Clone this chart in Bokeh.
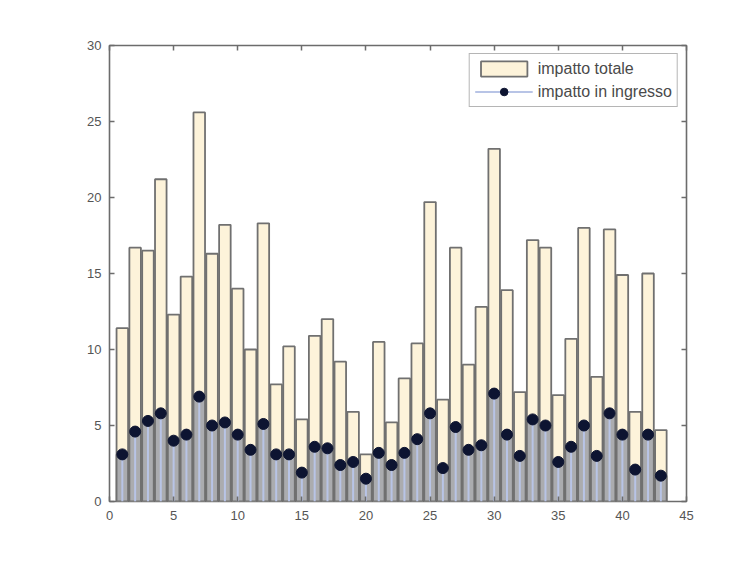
from bokeh.plotting import figure
from bokeh.models import Range1d, LinearAxis, FixedTicker, Legend, LegendItem
from bokeh.embed import file_html
from bokeh.resources import INLINE

# ---- data ----
index = list(range(1, 44))
impatto_totale = [11.4, 16.7, 16.5, 21.2, 12.3, 14.8, 25.6, 16.3, 18.2, 14.0,
                  10.0, 18.3, 7.7, 10.2, 5.4, 10.9, 12.0, 9.2, 5.9, 3.1,
                  10.5, 5.2, 8.1, 10.4, 19.7, 6.7, 16.7, 9.0, 12.8, 23.2,
                  13.9, 7.2, 17.2, 16.7, 7.0, 10.7, 18.0, 8.2, 17.9, 14.9,
                  5.9, 15.0, 4.7]
impatto_ingresso = [3.1, 4.6, 5.3, 5.8, 4.0, 4.4, 6.9, 5.0, 5.2, 4.4,
                    3.4, 5.1, 3.1, 3.1, 1.9, 3.6, 3.5, 2.4, 2.6, 1.5,
                    3.2, 2.4, 3.2, 4.1, 5.8, 2.2, 4.9, 3.4, 3.7, 7.1,
                    4.4, 3.0, 5.4, 5.0, 2.6, 3.6, 5.0, 3.0, 5.8, 4.4,
                    2.1, 4.4, 1.7]
x_ticks = [0, 5, 10, 15, 20, 25, 30, 35, 40, 45]
y_ticks = [0, 5, 10, 15, 20, 25, 30]
label_totale = "impatto totale"
label_ingresso = "impatto in ingresso"

FONT = "Liberation Sans"
AX = "#6c6c6c"

p = figure(width=728, height=546, output_backend="svg", toolbar_location=None,
           x_range=Range1d(0, 45), y_range=Range1d(0, 30),
           min_border_left=109, min_border_right=42,
           min_border_top=45, min_border_bottom=45)
p.background_fill_color = "white"
p.border_fill_color = "white"
p.outline_line_color = AX
p.outline_line_width = 1.6
p.xgrid.visible = False
p.ygrid.visible = False

zeros = [0] * len(index)

r_tot = p.vbar(x=index, top=impatto_totale, width=0.9, bottom=0,
               fill_color="#fdf3da", line_color="#707070", line_width=1.8)
p.vbar(x=index, top=impatto_ingresso, width=0.9, bottom=0,
       fill_color="#abacaf", line_color="#707070", line_width=1.8)
r_line = p.segment(x0=index, y0=zeros, x1=index, y1=impatto_ingresso,
                   line_color="#b8c4e6", line_width=2)
r_pt = p.scatter(x=index, y=impatto_ingresso, size=11, marker="circle",
                 fill_color="#0d1431", line_color="#0d1431")

def style_axis(ax, ticks, show_labels):
    ax.ticker = FixedTicker(ticks=ticks)
    ax.axis_line_color = None
    ax.major_tick_line_color = AX
    ax.major_tick_line_width = 1.5
    ax.major_tick_in = 5
    ax.major_tick_out = 0
    ax.minor_tick_line_color = None
    ax.major_label_text_font = FONT
    ax.major_label_text_font_size = "13px"
    ax.major_label_text_color = "#555555"
    if not show_labels:
        ax.major_label_overrides = {t: "" for t in ticks}
        ax.major_label_standoff = 0

style_axis(p.xaxis[0], x_ticks, True)
style_axis(p.yaxis[0], y_ticks, True)
p.xaxis[0].major_label_standoff = 9
p.yaxis[0].major_label_standoff = 8

top_ax = LinearAxis()
style_axis(top_ax, x_ticks, False)
p.add_layout(top_ax, "above")
right_ax = LinearAxis()
style_axis(right_ax, y_ticks, False)
p.add_layout(right_ax, "right")

legend = Legend(items=[
    LegendItem(label=label_totale, renderers=[r_tot]),
    LegendItem(label=label_ingresso, renderers=[r_line, r_pt]),
], location="top_right")
legend.margin = 8
legend.padding = 5
legend.spacing = 4
legend.glyph_width = 58
legend.glyph_height = 19
legend.label_standoff = 5
legend.label_text_font = FONT
legend.label_text_font_size = "16px"
legend.label_text_color = "#4a4a4a"
legend.border_line_color = AX
legend.border_line_width = 1.6
legend.background_fill_color = "white"
legend.background_fill_alpha = 1.0
p.add_layout(legend, "center")

open("out.html", "w").write(file_html(p, INLINE))
